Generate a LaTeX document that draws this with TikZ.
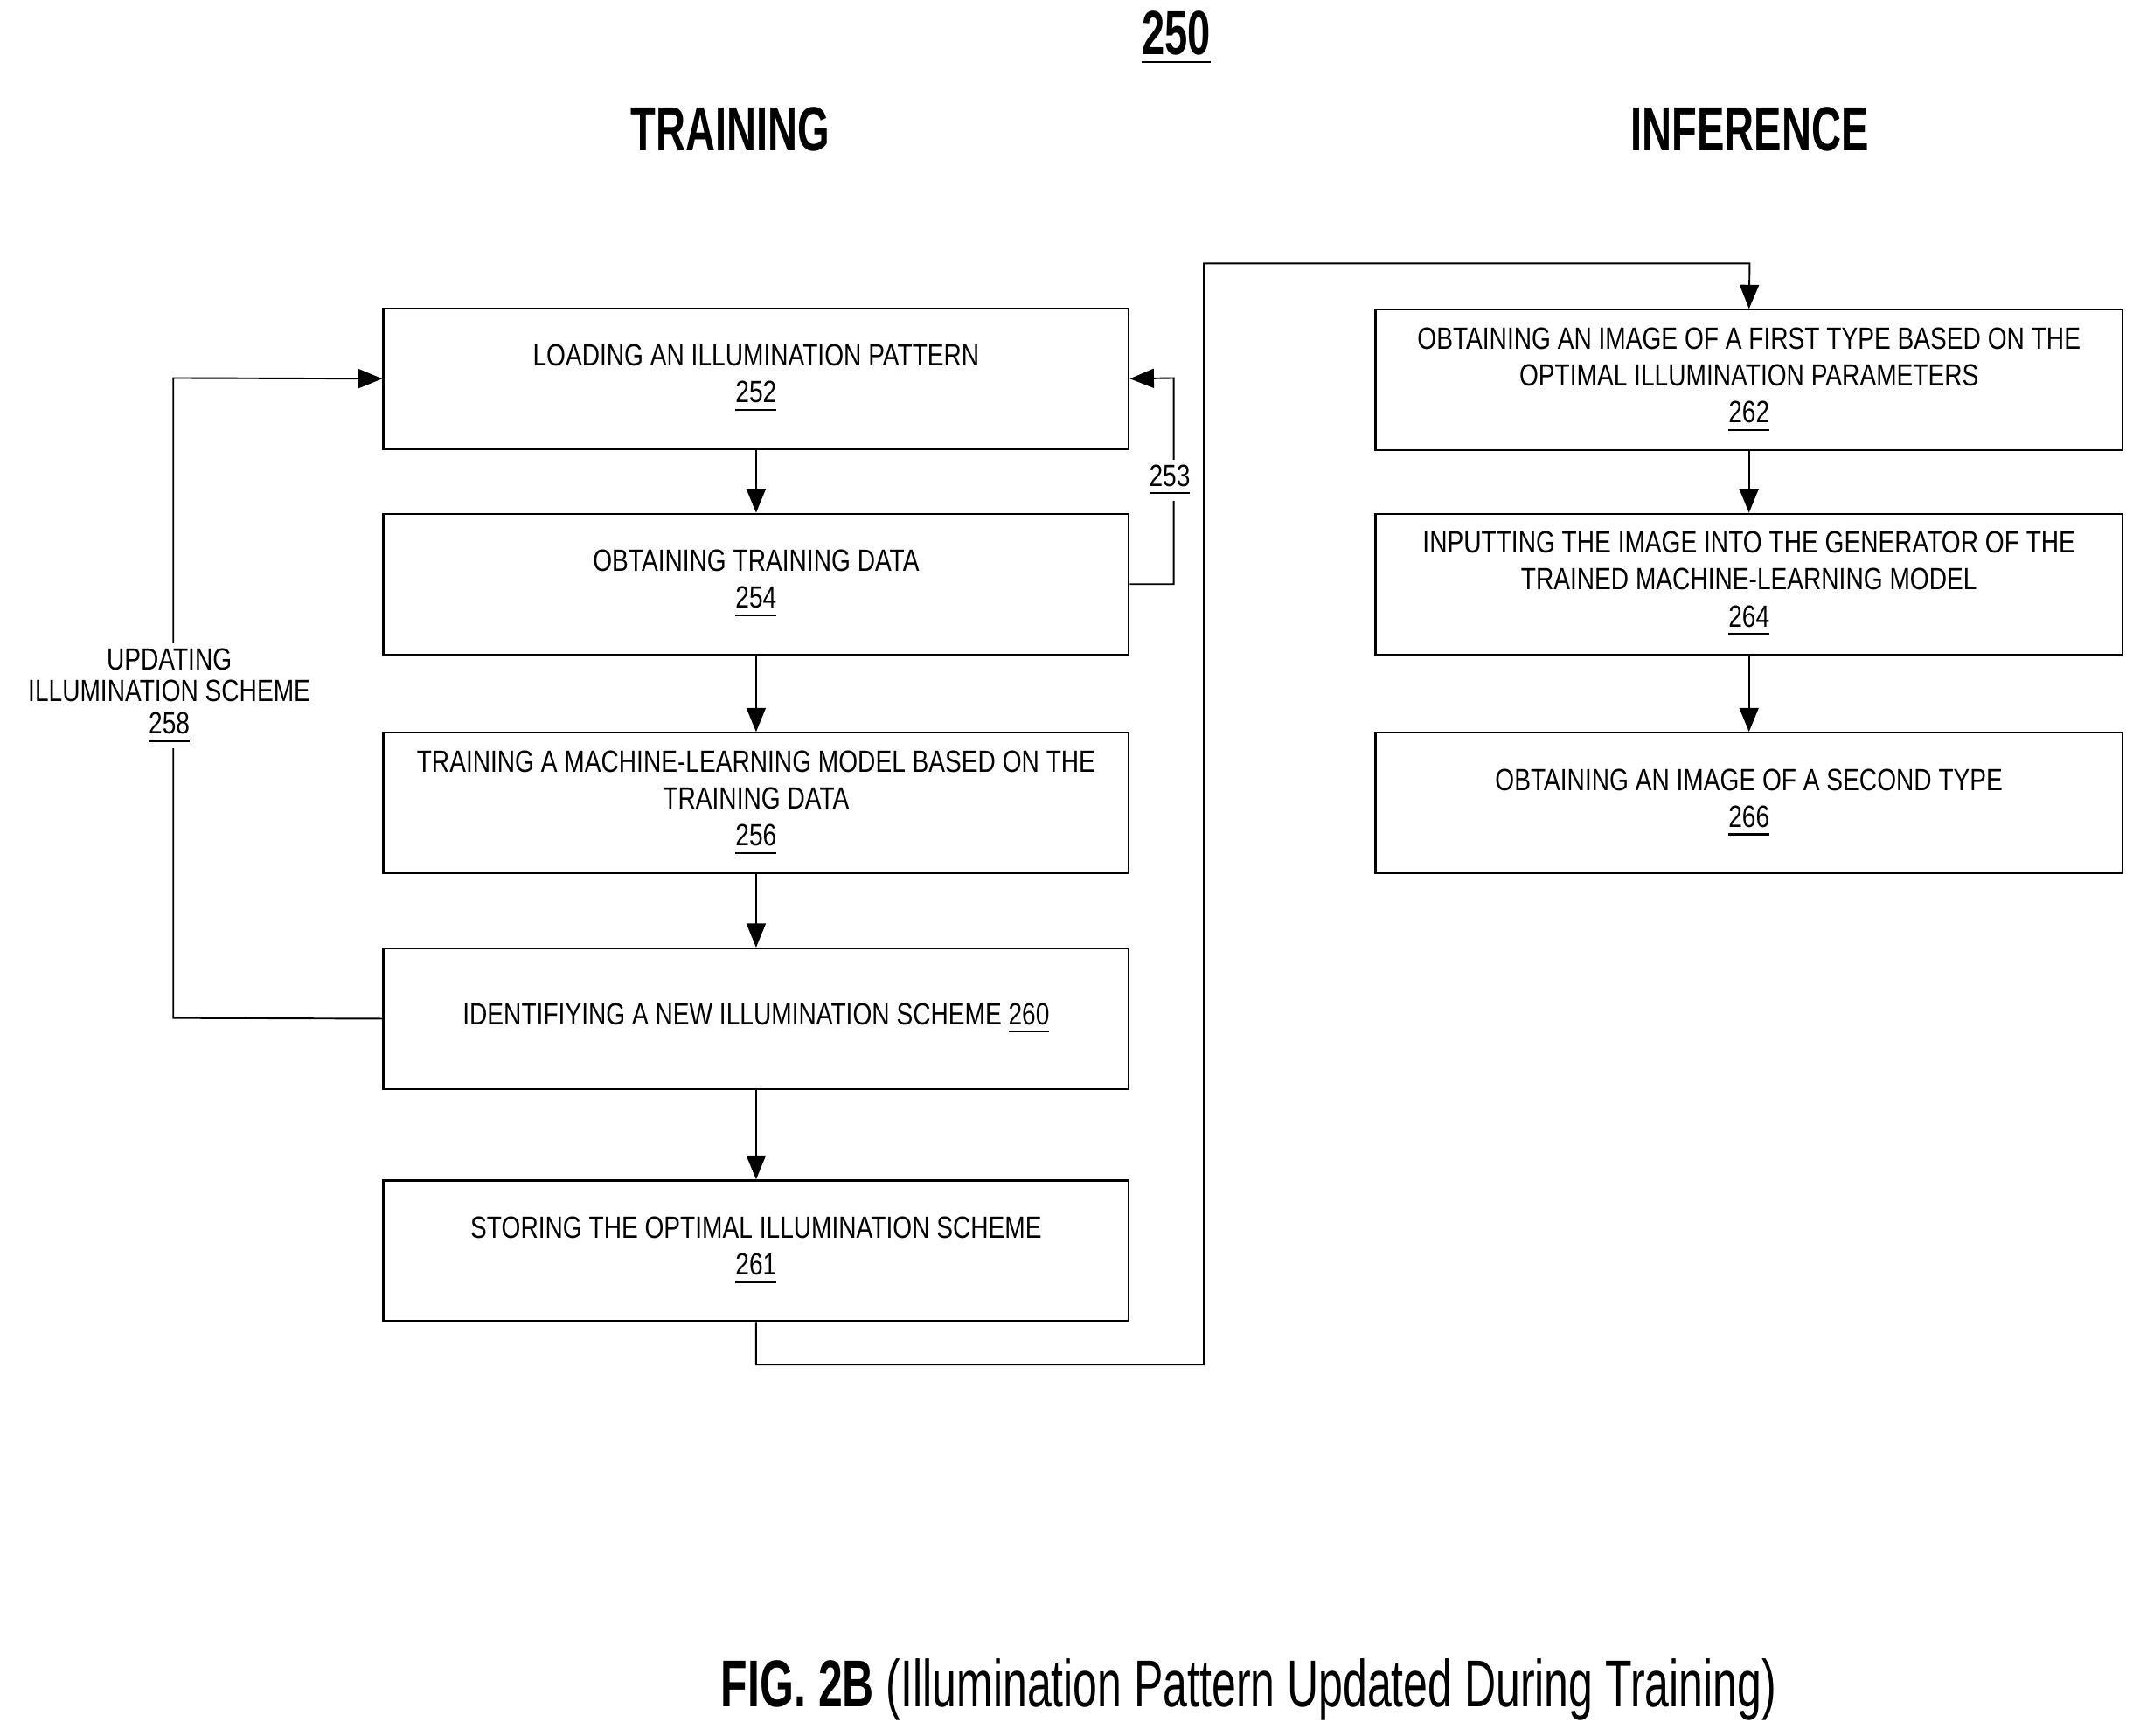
\documentclass[tikz,border=0pt]{standalone}
\usepackage{fontspec}
\setmainfont{Liberation Sans}[FakeStretch=0.8]
\newfontfamily\titlefont{Liberation Sans}[FakeStretch=0.66]
\usetikzlibrary{arrows.meta}
\begin{document}
\begin{tikzpicture}[x=0.01cm,y=-0.01cm,
  box/.style={draw,line width=0.4pt,minimum width=5.46cm,minimum height=1.03cm,align=center,font=\fontsize{6.4}{7.7}\selectfont,inner sep=0pt},
  rbox/.style={box,minimum width=5.47cm},
  arr/.style={-{Triangle[length=5pt,width=4pt]},line width=0.35pt},
  lbl/.style={font=\fontsize{6.4}{6.7}\selectfont,align=center,fill=white,inner sep=1pt},
  ttl/.style={font=\titlefont\bfseries\fontsize{13}{15}\selectfont}]
\useasboundingbox (0,0) rectangle (1568,1272);
\node[ttl] (num) at (862,28) {\underline{250}};
\node[ttl] (tr) at (535,95) {TRAINING};
\node[ttl] (inf) at (1282,95) {INFERENCE};
\node[box] (b252) at (554,277.5) {LOADING AN ILLUMINATION PATTERN\\\underline{252}};
\node[box] (b254) at (554,428) {OBTAINING TRAINING DATA\\\underline{254}};
\node[box] (b256) at (554,588.5) {TRAINING A MACHINE-LEARNING MODEL BASED ON THE\\TRAINING DATA\\\underline{256}};
\node[box] (b260) at (554,746.5) {IDENTIFIYING A NEW ILLUMINATION SCHEME \underline{260}};
\node[box] (b261) at (554,916.5) {STORING THE OPTIMAL ILLUMINATION SCHEME\\\underline{261}};
\node[rbox] (b262) at (1281.5,278.5) {OBTAINING AN IMAGE OF A FIRST TYPE BASED ON THE\\OPTIMAL ILLUMINATION PARAMETERS\\\underline{262}};
\node[rbox] (b264) at (1281.5,428) {INPUTTING THE IMAGE INTO THE GENERATOR OF THE\\TRAINED MACHINE-LEARNING MODEL\\\underline{264}};
\node[rbox] (b266) at (1281.5,588.5) {OBTAINING AN IMAGE OF A SECOND TYPE\\\underline{266}};
\draw[arr] (b252) -- (b254);
\draw[arr] (b254) -- (b256);
\draw[arr] (b256) -- (b260);
\draw[arr] (b260) -- (b261);
\draw[arr] (b262) -- (b264);
\draw[arr] (b264) -- (b266);
\coordinate (c1) at (860,428);
\coordinate (c2) at (860,277);
\draw[arr] (b254.east) -- (c1) -- (c2) -- (b252.east);
\node[lbl] (l253) at (857,352) {\underline{253}};
\coordinate (d1) at (127,746);
\coordinate (d2) at (127,277);
\draw[arr] (b260.west) -- (d1) -- (d2) -- (b252.west);
\node[lbl] (l258) at (124,510) {UPDATING\\ILLUMINATION SCHEME\\\underline{258}};
\coordinate (e1) at (554,1000);
\coordinate (e2) at (882,1000);
\coordinate (e3) at (882,193);
\coordinate (e4) at (1282,193);
\draw[arr] (b261.south) -- (e1) -- (e2) -- (e3) -- (e4) -- (b262.north);
\node[font=\titlefont\fontsize{13.8}{15}\selectfont] (cap) at (915,1238) {\textbf{FIG. 2B} (Illumination Pattern Updated During Training)};
\end{tikzpicture}
\end{document}
